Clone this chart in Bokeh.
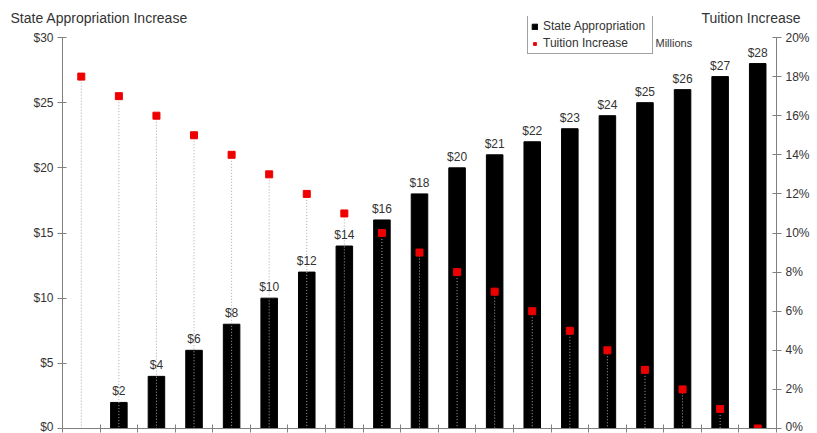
from bokeh.plotting import figure
from bokeh.models import (ColumnDataSource, Range1d, LinearAxis, FixedTicker,
                          NumeralTickFormatter, CustomJSTickFormatter, Label,
                          Legend, LegendItem, Title)
from bokeh.embed import file_html
from bokeh.resources import INLINE

# Yearly steps: state appropriation (millions of $) and tuition increase (%)
steps = list(range(19))
state_appropriation = [0, 2, 4, 6, 8, 10, 12, 14, 16, 18, 20, 21, 22, 23, 24, 25, 26, 27, 28]
tuition_increase = [18, 17, 16, 15, 14, 13, 12, 11, 10, 9, 8, 7, 6, 5, 4, 3, 2, 1, 0]

left_ticks = [0, 5, 10, 15, 20, 25, 30]
right_ticks = [0, 2, 4, 6, 8, 10, 12, 14, 16, 18, 20]

FONT = "Liberation Sans"
TEXT = "#333333"
AXIS = "#808080"

# the frame reaches above the top tick so the legend has room; axes stop at the top tick
TOP = 16
FRAME_H = 428 - TOP
AX_H = 391
Y_MAX = 30 * FRAME_H / AX_H
P_MAX = 20 * FRAME_H / AX_H

xc = [s + 0.5 for s in steps]
src = ColumnDataSource(dict(
    x=xc,
    approp=state_appropriation,
    tuition=tuition_increase,
    zero=[0] * len(steps),
))
lbl = ColumnDataSource(dict(
    x=[x for x, v in zip(xc, state_appropriation) if v > 0],
    y=[v for v in state_appropriation if v > 0],
    t=["$%d" % v for v in state_appropriation if v > 0],
))

p = figure(frame_width=714, frame_height=FRAME_H, output_backend="svg",
           toolbar_location=None, x_range=Range1d(0, 19), y_range=Range1d(0, Y_MAX),
           min_border_left=62, min_border_right=41, min_border_top=TOP,
           min_border_bottom=5, x_axis_location=None, y_axis_location=None)
p.title.visible = False
p.outline_line_color = None
p.xgrid.visible = False
p.ygrid.visible = False
p.background_fill_color = "white"
p.border_fill_color = "white"

p.extra_y_ranges = {"pct": Range1d(0, P_MAX)}

bars = p.vbar(x="x", top="approp", width=0.44, source=src,
              fill_color="black", line_color="black")

# drop lines from each tuition point to the baseline
p.segment(x0="x", y0="tuition", x1="x", y1="zero", source=src,
          y_range_name="pct", line_color="#a8a8a8", line_width=1,
          line_dash="1 2")

pts = p.scatter(x="x", y="tuition", source=src, y_range_name="pct",
                marker="square", size=7, fill_color="#ee0000",
                line_color="#ee0000")

p.text(x="x", y="y", text="t", source=lbl, text_align="center",
       text_baseline="bottom", y_offset=-4, text_font_size="12px",
       text_color=TEXT, text_font={"value": FONT})

def style_axis(ax):
    ax.axis_line_color = AXIS
    ax.major_tick_line_color = AXIS
    ax.minor_tick_line_color = None
    ax.major_tick_in = 4
    ax.major_tick_out = 5
    ax.major_label_text_font = FONT
    ax.major_label_text_font_size = "12px"
    ax.major_label_text_color = TEXT
    ax.major_label_standoff = 4

left = LinearAxis(ticker=FixedTicker(ticks=left_ticks), bounds=(0, 30),
                  formatter=NumeralTickFormatter(format="$0"))
style_axis(left)
p.add_layout(left, "left")

right = LinearAxis(y_range_name="pct", ticker=FixedTicker(ticks=right_ticks),
                   bounds=(0, 20),
                   formatter=CustomJSTickFormatter(code="return tick + '%';"))
style_axis(right)
p.add_layout(right, "right")

bottom = LinearAxis(ticker=FixedTicker(ticks=list(range(20))),
                    formatter=CustomJSTickFormatter(code="return '';"))
style_axis(bottom)
bottom.major_tick_in = 4
bottom.major_tick_out = 4
bottom.major_label_standoff = 0
p.add_layout(bottom, "below")

legend = Legend(items=[LegendItem(label="State Appropriation", renderers=[bars]),
                       LegendItem(label="Tuition Increase", renderers=[pts])],
                location=(465, 374), orientation="vertical",
                glyph_width=7, glyph_height=7, label_text_font=FONT,
                label_text_font_size="12px", label_text_color=TEXT,
                label_standoff=5, label_height=14, label_width=106,
                spacing=3, padding=3, margin=0,
                border_line_color="#444444", background_fill_alpha=1)
p.add_layout(legend, "center")

# axis titles above the two value axes
p.add_layout(Title(text="State Appropriation Increase", align="left", offset=-52,
                   standoff=-18, text_font=FONT, text_font_size="14px",
                   text_font_style="normal", text_color=TEXT), "above")
p.add_layout(Title(text="Tuition Increase", align="right", offset=-24,
                   standoff=-18, text_font=FONT, text_font_size="14px",
                   text_font_style="normal", text_color=TEXT), "above")
p.add_layout(Label(x=593, y=380, x_units="screen", y_units="screen",
                   text="Millions", text_font=FONT,
                   text_font_size="11px", text_color=TEXT))

open("out.html", "w").write(file_html(p, INLINE))
